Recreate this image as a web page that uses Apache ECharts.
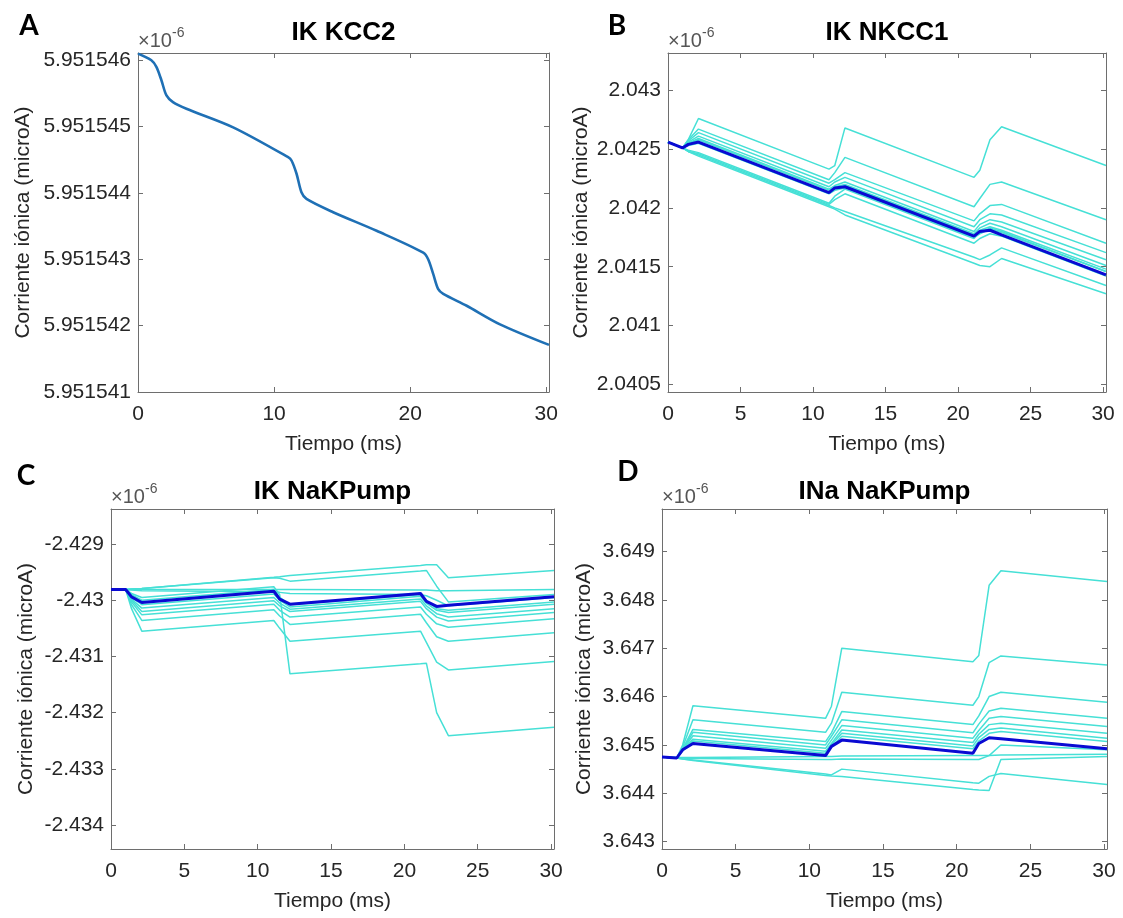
<!DOCTYPE html>
<html>
<head>
<meta charset="utf-8">
<title>Corriente iónica</title>
<script src="https://cdn.jsdelivr.net/npm/echarts@6/dist/echarts.min.js"></script>
<style>
html, body { margin: 0; padding: 0; background: #fff; }
#chart { width: 1123px; height: 918px; }
</style>
</head>
<body>
<div id="chart"></div>
<script>
// valores en unidades de 1e-6 (el factor se muestra como "x10^-6")
const tiempoA = [0, 0.98, 1.35, 1.72, 2.09, 2.57, 3.56, 6.99, 11.03, 11.28, 11.65, 12.01, 12.38, 14.34, 17.53, 20.96, 21.32, 21.69, 22.06, 22.43, 24.15, 26.6, 30.2];
const ikKcc2 = [5.9515461, 5.9515460, 5.9515459, 5.9515457, 5.95154547, 5.95154537, 5.95154527, 5.95154499, 5.95154454, 5.95154449, 5.95154429, 5.95154401, 5.95154391, 5.95154371, 5.95154343, 5.9515431, 5.951543, 5.95154278, 5.95154255, 5.95154248, 5.9515423, 5.95154202, 5.95154171];

// tiempo comun de los paneles B, C y D
const tiempo = [0, 1.0, 1.4, 2.1, 11.1, 11.5, 12.2, 21.1, 21.5, 22.2, 23.0, 30.2];

const nkcc1Azul = [2.04256, 2.04251, 2.04254, 2.04256, 2.04213, 2.04217, 2.04218, 2.04176, 2.04180, 2.04181, 2.04177, 2.04143];
const nkcc1Cian = [
  [2.04256, 2.04251, 2.04258, 2.04276, 2.04233, 2.04236, 2.04268, 2.04226, 2.04232, 2.04258, 2.04269, 2.04236],
  [2.04256, 2.04251, 2.04258, 2.04267, 2.04224, 2.04230, 2.04243, 2.04201, 2.04208, 2.04220, 2.04222, 2.04190],
  [2.04256, 2.04251, 2.04257, 2.04264, 2.04221, 2.04224, 2.04230, 2.04189, 2.04195, 2.04202, 2.04203, 2.04170],
  [2.04256, 2.04251, 2.04256, 2.04261, 2.04218, 2.04222, 2.04226, 2.04184, 2.04190, 2.04195, 2.04194, 2.04162],
  [2.04256, 2.04251, 2.04255, 2.04259, 2.04216, 2.04219, 2.04222, 2.04180, 2.04186, 2.04190, 2.04188, 2.04156],
  [2.04256, 2.04251, 2.04255, 2.04258, 2.04215, 2.04218, 2.04220, 2.04178, 2.04183, 2.04187, 2.04184, 2.04151],
  [2.04256, 2.04251, 2.04254, 2.04256, 2.04213, 2.04216, 2.04219, 2.04177, 2.04181, 2.04184, 2.04181, 2.04148],
  [2.04256, 2.04251, 2.04249, 2.04247, 2.04204, 2.04210, 2.04216, 2.04174, 2.04179, 2.04183, 2.04180, 2.04146],
  [2.04256, 2.04251, 2.04248, 2.04246, 2.04203, 2.04207, 2.04212, 2.04170, 2.04174, 2.04178, 2.04176, 2.04142],
  [2.04256, 2.04251, 2.04248, 2.04245, 2.04202, 2.04200, 2.04197, 2.04158, 2.04156, 2.04160, 2.04166, 2.04134],
  [2.04256, 2.04251, 2.04248, 2.04244, 2.04201, 2.04199, 2.04194, 2.04153, 2.04151, 2.04150, 2.04157, 2.04127],
  [2.04256, 2.04251, 2.04253, 2.04255, 2.04212, 2.04215, 2.04217, 2.04175, 2.04178, 2.04182, 2.04179, 2.04146]
];

const ikPumpAzul = [-2.42981, -2.42981, -2.42994, -2.43004, -2.42984, -2.42998, -2.43007, -2.42988, -2.43002, -2.43011, -2.43009, -2.42994];
const ikPumpCian = [
  [-2.42981, -2.42981, -2.42980, -2.42979, -2.42959, -2.42958, -2.42956, -2.42938, -2.42937, -2.42937, -2.42960, -2.42947],
  [-2.42981, -2.42981, -2.42980, -2.42979, -2.42960, -2.42961, -2.42966, -2.42948, -2.42947, -2.42975, -2.43003, -2.42990],
  [-2.42981, -2.42981, -2.42981, -2.42981, -2.42981, -2.42981, -2.42981, -2.42982, -2.42982, -2.42983, -2.42983, -2.42981],
  [-2.42981, -2.42981, -2.42982, -2.42983, -2.42985, -2.42986, -2.42988, -2.42990, -2.42992, -2.43000, -2.43010, -2.42995],
  [-2.42981, -2.42981, -2.42995, -2.43008, -2.42989, -2.43000, -2.43012, -2.42993, -2.43005, -2.43018, -2.43022, -2.43007],
  [-2.42981, -2.42981, -2.42998, -2.43014, -2.42995, -2.43005, -2.43016, -2.42998, -2.43010, -2.43024, -2.43030, -2.43015],
  [-2.42981, -2.42981, -2.43000, -2.43020, -2.43001, -2.43010, -2.43020, -2.43002, -2.43015, -2.43030, -2.43037, -2.43022],
  [-2.42981, -2.42981, -2.43003, -2.43026, -2.43007, -2.43018, -2.43030, -2.43012, -2.43025, -2.43042, -2.43048, -2.43033],
  [-2.42981, -2.42981, -2.43008, -2.43036, -2.43017, -2.43028, -2.43043, -2.43025, -2.43040, -2.43065, -2.43073, -2.43058],
  [-2.42981, -2.42981, -2.43015, -2.43055, -2.43036, -2.43050, -2.43073, -2.43055, -2.43075, -2.43110, -2.43124, -2.43109],
  [-2.42981, -2.42981, -2.42988, -2.42995, -2.42976, -2.42990, -2.43131, -2.43113, -2.43112, -2.43200, -2.43241, -2.43226],
  [-2.42981, -2.42981, -2.42990, -2.43000, -2.42981, -2.42995, -2.43008, -2.42990, -2.43000, -2.43015, -2.43018, -2.43003]
];

const inaPumpAzul = [3.64475, 3.64473, 3.64490, 3.64503, 3.64478, 3.64497, 3.64510, 3.64483, 3.64503, 3.64515, 3.64513, 3.64492];
const inaPumpCian = [
  [3.64475, 3.64473, 3.64500, 3.64581, 3.64555, 3.64580, 3.64700, 3.64672, 3.64685, 3.64830, 3.64860, 3.64838],
  [3.64475, 3.64473, 3.64495, 3.64552, 3.64526, 3.64545, 3.64609, 3.64582, 3.64600, 3.64670, 3.64684, 3.64665],
  [3.64475, 3.64473, 3.64492, 3.64532, 3.64507, 3.64525, 3.64569, 3.64542, 3.64560, 3.64600, 3.64609, 3.64588],
  [3.64475, 3.64473, 3.64490, 3.64526, 3.64500, 3.64518, 3.64552, 3.64525, 3.64543, 3.64570, 3.64576, 3.64555],
  [3.64475, 3.64473, 3.64490, 3.64519, 3.64493, 3.64510, 3.64540, 3.64514, 3.64530, 3.64555, 3.64559, 3.64538],
  [3.64475, 3.64473, 3.64489, 3.64512, 3.64487, 3.64503, 3.64531, 3.64505, 3.64522, 3.64542, 3.64545, 3.64524],
  [3.64475, 3.64473, 3.64489, 3.64508, 3.64483, 3.64500, 3.64524, 3.64498, 3.64515, 3.64532, 3.64535, 3.64514],
  [3.64475, 3.64474, 3.64474, 3.64474, 3.64476, 3.64476, 3.64477, 3.64478, 3.64478, 3.64478, 3.64479, 3.64481],
  [3.64475, 3.64474, 3.64473, 3.64472, 3.64470, 3.64470, 3.64471, 3.64470, 3.64470, 3.64478, 3.64500, 3.64490],
  [3.64475, 3.64473, 3.64471, 3.64469, 3.64440, 3.64438, 3.64450, 3.64422, 3.64421, 3.64435, 3.64441, 3.64418],
  [3.64475, 3.64473, 3.64471, 3.64468, 3.64437, 3.64436, 3.64435, 3.64408, 3.64407, 3.64406, 3.64470, 3.64476],
  [3.64475, 3.64473, 3.64488, 3.64503, 3.64478, 3.64495, 3.64518, 3.64492, 3.64508, 3.64524, 3.64528, 3.64507]
];

// marcas de los ejes
const ticksXA = [0, 10, 20, 30];
const ticksX = [0, 5, 10, 15, 20, 25, 30];
const ticksYA = [5.951541, 5.951542, 5.951543, 5.951544, 5.951545, 5.951546];
const ticksYB = [2.0405, 2.041, 2.0415, 2.042, 2.0425, 2.043];
const ticksYC = [-2.434, -2.433, -2.432, -2.431, -2.43, -2.429];
const ticksYD = [3.643, 3.644, 3.645, 3.646, 3.647, 3.648, 3.649];

const xMax = 30.2;
const fuente = '"Liberation Sans", Arial, Helvetica, sans-serif';
const texto = '#262626';
const borde = '#6e6e6e';

const paneles = [
  { letra: 'A', titulo: 'IK KCC2', grid: { left: 138, top: 53, width: 411, height: 339 }, yMin: 5.951541, yMax: 5.95154611, ticksX: ticksXA, ticksY: ticksYA, dec: 6, nameGap: 104, letraPos: [29, 26], tituloY: 33 },
  { letra: 'B', titulo: 'IK NKCC1', grid: { left: 668, top: 53, width: 438, height: 339 }, yMin: 2.040435, yMax: 2.043317, ticksX: ticksX, ticksY: ticksYB, dec: 4, nameGap: 76, letraPos: [617, 26], tituloY: 33 },
  { letra: 'C', titulo: 'IK NaKPump', grid: { left: 111, top: 509, width: 443, height: 340 }, yMin: -2.434428, yMax: -2.428376, ticksX: ticksX, ticksY: ticksYC, dec: 3, nameGap: 74, letraPos: [26, 476], tituloY: 492 },
  { letra: 'D', titulo: 'INa NaKPump', grid: { left: 662, top: 509, width: 445, height: 340 }, yMin: 3.642849, yMax: 3.649877, ticksX: ticksX, ticksY: ticksYD, dec: 3, nameGap: 67, letraPos: [628, 472], tituloY: 492 }
];

function ejeX(i, p, abajo) {
  return {
    type: 'value', gridIndex: i, position: abajo ? 'bottom' : 'top', min: 0, max: xMax,
    name: abajo ? 'Tiempo (ms)' : '', nameLocation: 'middle', nameGap: 42,
    nameTextStyle: { fontSize: 21, color: texto, fontFamily: fuente },
    axisLine: { show: true, onZero: false, lineStyle: { color: borde, width: 1 } },
    axisTick: { show: true, inside: true, length: 5, customValues: p.ticksX, lineStyle: { color: borde } },
    axisLabel: { show: abajo, customValues: p.ticksX, margin: 12, fontSize: 21, color: texto, fontFamily: fuente },
    splitLine: { show: false }
  };
}

function ejeY(i, p, izq) {
  return {
    type: 'value', gridIndex: i, position: izq ? 'left' : 'right', min: p.yMin, max: p.yMax,
    name: izq ? 'Corriente iónica (microA)' : '', nameLocation: 'middle', nameGap: p.nameGap,
    nameTextStyle: { fontSize: 21, color: texto, fontFamily: fuente },
    axisLine: { show: true, onZero: false, lineStyle: { color: borde, width: 1 } },
    axisTick: { show: true, inside: true, length: 5, customValues: p.ticksY, lineStyle: { color: borde } },
    axisLabel: {
      show: izq, customValues: p.ticksY, margin: 7, fontSize: 21, color: texto, fontFamily: fuente,
      formatter: v => String(parseFloat(v.toFixed(p.dec)))
    },
    splitLine: { show: false }
  };
}

const pares = (ts, vs) => ts.map((t, k) => [t, vs[k]]);

function linea(i, datos, color, ancho) {
  return {
    type: 'line', xAxisIndex: 2 * i, yAxisIndex: 2 * i, data: datos,
    showSymbol: false, symbol: 'none', silent: true,
    lineStyle: { color: color, width: ancho }
  };
}

const series = [];
series.push(Object.assign(linea(0, pares(tiempoA, ikKcc2), '#1f70b5', 2.6), { smooth: 0.3 }));
[[nkcc1Cian, nkcc1Azul], [ikPumpCian, ikPumpAzul], [inaPumpCian, inaPumpAzul]].forEach(([cian, azul], k) => {
  cian.forEach(vs => series.push(linea(k + 1, pares(tiempo, vs), '#46e0d6', 1.5)));
  series.push(linea(k + 1, pares(tiempo, azul), '#0a0ad2', 3));
});

const graficos = [];
paneles.forEach(p => {
  const g = p.grid;
  graficos.push({ type: 'text', x: p.letraPos[0], y: p.letraPos[1],
    style: { text: p.letra, fill: '#000', font: 'bold 28px Lato, "Open Sans", sans-serif', align: 'center', verticalAlign: 'middle' } });
  graficos.push({ type: 'text', x: g.left + g.width / 2, y: p.tituloY,
    style: { text: p.titulo, fill: '#000', font: 'bold 26px ' + fuente, align: 'center', verticalAlign: 'middle' } });
  graficos.push({ type: 'text', x: g.left, y: g.top - 12,
    style: { text: '×10', fill: '#555', font: '20px ' + fuente, align: 'left', verticalAlign: 'middle' } });
  graficos.push({ type: 'text', x: g.left + 34, y: g.top - 20,
    style: { text: '-6', fill: '#555', font: '14px ' + fuente, align: 'left', verticalAlign: 'middle' } });
});

const chart = echarts.init(document.getElementById('chart'));
chart.setOption({
  animation: false,
  backgroundColor: '#fff',
  grid: paneles.map(p => p.grid),
  xAxis: paneles.flatMap((p, i) => [ejeX(i, p, true), ejeX(i, p, false)]),
  yAxis: paneles.flatMap((p, i) => [ejeY(i, p, true), ejeY(i, p, false)]),
  series: series,
  graphic: graficos
});
</script>
</body>
</html>
